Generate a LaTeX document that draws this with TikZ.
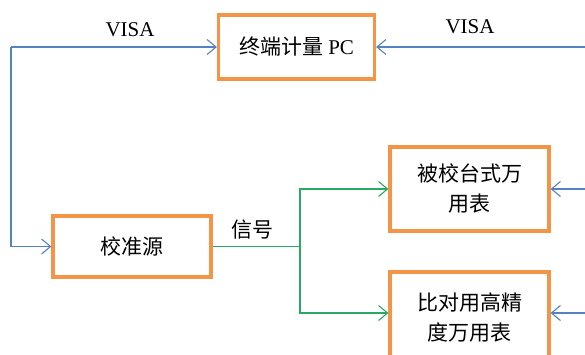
\documentclass[tikz,border=0pt]{standalone}
\usepackage{fontspec}
\setmainfont{Liberation Serif}
\newfontfamily\cjk{Noto Sans CJK SC}
\usetikzlibrary{arrows.meta}
\definecolor{boxorange}{RGB}{244,148,70}
\definecolor{lineblue}{RGB}{84,130,196}
\definecolor{linegreen}{RGB}{40,170,100}
\tikzset{
  box/.style={draw=boxorange, line width=3.2pt, fill=white, align=center, inner sep=0pt,
    font=\fontsize{21pt}{30pt}\selectfont},
  bluearr/.style={draw=lineblue, line width=1.1pt, -{Straight Barb[length=9pt,width=15pt,line width=1.1pt]}},
  greenarr/.style={draw=linegreen, line width=1.1pt, -{Straight Barb[length=9pt,width=15pt,line width=1.1pt]}},
  greenline/.style={draw=linegreen, line width=1.1pt},
  lab/.style={font=\fontsize{21pt}{24pt}\selectfont, inner sep=0pt},
}
\begin{document}
\begin{tikzpicture}[x=1pt,y=-1pt]
\useasboundingbox (0,0) rectangle (585,354);
\clip (0,0) rectangle (585,354);
\fill[white] (0,0) rectangle (585,354);
% boxes
\node[box, minimum width=156pt, minimum height=64pt] (pc) at (296.5,47) {{\cjk 终端计量} PC};
\node[box, minimum width=158pt, minimum height=61pt] (cal) at (132,246.5) {\cjk 校准源};
\node[box, minimum width=159pt, minimum height=84pt] (dmm) at (469.5,189) {\cjk 被校台式万\\\cjk 用表};
\node[box, minimum width=159pt, minimum height=92pt] (ref) at (469.5,318) {\cjk 比对用高精\\\cjk 度万用表};
% coordinates
\coordinate (L) at (11,47);
\coordinate (R) at (590,47);
\coordinate (R1) at (590,189);
\coordinate (R2) at (590,313);
\coordinate (G) at (300,246.5);
\coordinate (G2) at (300,313);
% blue connectors
\draw[bluearr] (L) -- (pc.west);
\draw[bluearr] (L) |- (cal.west);
\draw[bluearr] (R) -- (pc.east);
\draw[bluearr] (R1) -- (dmm.east);
\draw[bluearr] (R2) -- (R2 -| ref.east);
% green connectors
\draw[greenline] (cal.east) -- (G);
\draw[greenarr] (G) |- (dmm.west);
\draw[greenarr] (G) -- (G2) -- (G2 -| ref.west);
% labels
\node[lab] (visa1) at (130,30) {VISA};
\node[lab] (visa2) at (470,27) {VISA};
\node[lab] (sig) at (252,230) {\cjk 信号};
\end{tikzpicture}
\end{document}
